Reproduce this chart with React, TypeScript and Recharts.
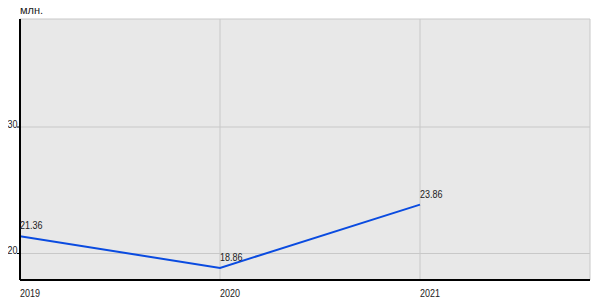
import { LineChart, Line, XAxis, YAxis, CartesianGrid, ReferenceLine, LabelList } from 'recharts';

const years = [2019, 2020, 2021];
const values = [21.36, 18.86, 23.86];
const yTicks = [20, 30];
const topTick = 40;
const unitLabel = 'млн.';

const data = years.map((year, i) => ({ year, value: values[i] }));

const font = '"Liberation Sans", Arial, sans-serif';

// the original uses a narrow font, squeeze the text to its width
const textWidth = (s: string) => s.split('').reduce((w, c) => w + (c === '.' ? 2.5 : 5), 0);

const NarrowText = ({ x, y, anchor, children }: any) => {
    const s = String(children);
    return (
        <text
            x={x}
            y={y}
            fontSize={10}
            fill="#222"
            fontFamily={font}
            textAnchor={anchor}
            textLength={textWidth(s)}
            lengthAdjust="spacingAndGlyphs"
        >
            {s}
        </text>
    );
};

const ValueLabel = (props: any) => (
    <NarrowText x={props.x} y={props.y - 7} anchor="start">{props.value}</NarrowText>
);

const YTick = (props: any) => (
    <NarrowText x={17.5} y={props.y + 0.5} anchor="end">{props.payload.value}</NarrowText>
);

const XTick = (props: any) => (
    <NarrowText x={props.x} y={props.y + 9} anchor="start">{props.payload.value}</NarrowText>
);

const TopLabel = (props: any) => (
    <NarrowText x={17.5} y={props.viewBox.y + 1} anchor="end">{topTick}</NarrowText>
);

export default function App() {
    return (
        <div style={{ margin: '-8px 0 0 -8px', position: 'relative', width: 600, height: 300, fontFamily: font }}>
            <LineChart width={600} height={300} data={data} margin={{ top: 19, right: 10, left: 0, bottom: 0 }}>
                <CartesianGrid stroke="#c8c8c8" fill="#e8e8e8" />
                <XAxis
                    dataKey="year"
                    type="number"
                    domain={[2019, 2021.85]}
                    ticks={years}
                    allowDataOverflow
                    height={20}
                    tickLine={false}
                    axisLine={{ stroke: '#000', strokeWidth: 2 }}
                    tick={<XTick />}
                />
                <YAxis
                    type="number"
                    domain={[17.905, 38.538]}
                    ticks={yTicks}
                    allowDataOverflow
                    width={20}
                    tickSize={3}
                    tickLine={{ stroke: '#000' }}
                    axisLine={{ stroke: '#000', strokeWidth: 2 }}
                    tick={<YTick />}
                />
                <ReferenceLine y={topTick} ifOverflow="visible" stroke="#c8c8c8" label={<TopLabel />} />
                <Line
                    dataKey="value"
                    stroke="#0a4be0"
                    strokeWidth={2}
                    dot={false}
                    isAnimationActive={false}
                >
                    <LabelList dataKey="value" content={<ValueLabel />} />
                </Line>
            </LineChart>
            <span style={{ position: 'absolute', left: 20, top: 4, fontSize: 11, lineHeight: '13px', color: '#222', zIndex: 1 }}>
                {unitLabel}
            </span>
        </div>
    );
}
